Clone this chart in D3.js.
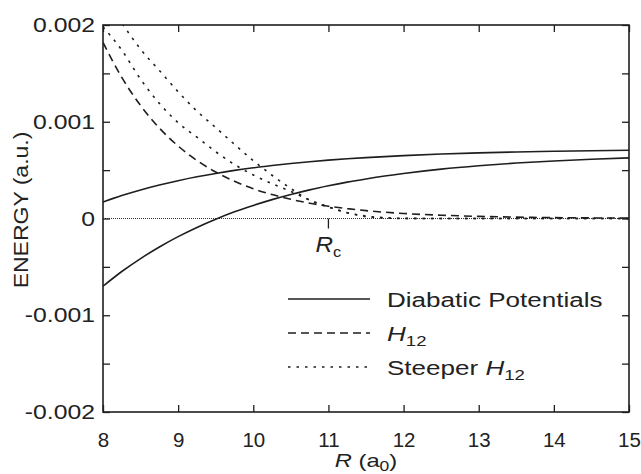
<!DOCTYPE html>
<html>
<head>
<meta charset="utf-8">
<script src="https://cdn.jsdelivr.net/npm/d3@7"></script>
<style>
  html, body { margin: 0; padding: 0; background: #fff; }
  svg text { font-family: "Liberation Sans", Arial, sans-serif; fill: #222; }
</style>
</head>
<body>
<svg id="chart" width="641" height="474"></svg>
<script>
// Internuclear distance grid (bohr)
const R = [8, 8.25, 8.5, 8.75, 9, 9.25, 9.5, 9.75, 10, 10.25, 10.5, 10.75, 11,
           11.25, 11.5, 11.75, 12, 12.5, 13, 13.5, 14, 14.5, 15];

// Diabatic potential curves (a.u.)
const diabaticUpper = [0.00017, 0.000237, 0.000295, 0.000346, 0.000391, 0.000431, 0.000466,
  0.000497, 0.000524, 0.000547, 0.000568, 0.000587, 0.000603, 0.000617, 0.000629, 0.00064,
  0.00065, 0.000666, 0.000678, 0.000688, 0.000695, 0.000701, 0.000705];
const diabaticLower = [-0.0007, -0.000548, -0.000414, -0.000294, -0.000187, -0.000092, -0.000007,
  0.000069, 0.000135, 0.000195, 0.000248, 0.000296, 0.000338, 0.000376, 0.000409, 0.000439,
  0.000465, 0.00051, 0.000545, 0.000573, 0.000595, 0.000613, 0.000627];

// Coupling H12 and two steeper variants
const h12 = [0.00182, 0.001458, 0.001168, 0.000935, 0.000749, 0.0006, 0.00048, 0.000385,
  0.000308, 0.000247, 0.000198, 0.000158, 0.000127, 0.000102, 0.000081, 0.000065, 0.000052,
  0.000034, 0.000022, 0.000014, 0.000009, 0.000006, 0.000004];
const steepH12a = [0.00198, 0.00174, 0.00144, 0.00119, 0.00099, 0.00084, 0.00069, 0.000558,
  0.00045, 0.00036, 0.00028, 0.00019, 0.00012, 0.00006, 0.00002, 0.000005, 0, 0, 0, 0, 0, 0, 0];
const steepH12b = [0.0023, 0.00202, 0.00175, 0.00153, 0.00131, 0.00111, 0.00094, 0.000766,
  0.000598, 0.000447, 0.00031, 0.00019, 0.00012, 0.00006, 0.000025, 0.000008, 0.000002,
  0, 0, 0, 0, 0, 0];

// Axis ticks and labels
const xTicks = [8, 9, 10, 11, 12, 13, 14, 15];
const yMajorTicks = [-0.002, -0.001, 0, 0.001, 0.002];
const yTickLabels = ["-0.002", "-0.001", "0", "0.001", "0.002"];
const yMinorTicks = [-0.0015, -0.0005, 0.0005, 0.0015];
const crossingR = 11;

const legendItems = [
  { name: "Diabatic Potentials", dash: null },
  { name: "H12", dash: "8,5" },
  { name: "Steeper H12", dash: "2.5,6" }
];

const svg = d3.select("#chart");
const plotL = 103, plotR = 629, plotT = 25, plotB = 412;

const x = d3.scaleLinear().domain([8, 15]).range([plotL, plotR]);
const y = d3.scaleLinear().domain([-0.002, 0.002]).range([plotB, plotT]);

const ink = "#1e1e1e";
const tickLen = 7;

// widen a text element horizontally around its anchor point
function widen(textSel, sx, rot) {
  textSel.each(function () {
    const t = d3.select(this);
    const tx = +t.attr("x") || 0, ty = +t.attr("y") || 0;
    t.attr("x", null).attr("y", null)
      .attr("transform", `translate(${tx},${ty})${rot ? ` rotate(${rot})` : ""} scale(${sx},1)`);
  });
}

svg.append("defs").append("clipPath").attr("id", "plot-clip")
  .append("rect").attr("x", plotL).attr("y", plotT)
  .attr("width", plotR - plotL).attr("height", plotB - plotT);

// zero reference line
svg.append("line")
  .attr("x1", x(8)).attr("x2", x(15))
  .attr("y1", y(0)).attr("y2", y(0))
  .attr("stroke", "#333").attr("stroke-width", 1)
  .attr("stroke-dasharray", "1,1");

// curves
const line = d3.line()
  .x((d, i) => x(R[i]))
  .y(d => y(d))
  .curve(d3.curveMonotoneX);

const plot = svg.append("g").attr("clip-path", "url(#plot-clip)");
const series = [
  { values: diabaticUpper, dash: null },
  { values: diabaticLower, dash: null },
  { values: h12, dash: "8,5" },
  { values: steepH12a, dash: "2.5,6" },
  { values: steepH12b, dash: "2.5,6" }
];
series.forEach(s => {
  plot.append("path")
    .attr("d", line(s.values))
    .attr("fill", "none")
    .attr("stroke", ink)
    .attr("stroke-width", 1.6)
    .attr("stroke-dasharray", s.dash);
});

// axes with inward ticks
const fmtY = d => { const k = yMajorTicks.indexOf(d); return k >= 0 ? yTickLabels[k] : ""; };

const xBottom = svg.append("g").attr("transform", `translate(0,${plotB})`)
  .call(d3.axisBottom(x).tickValues(xTicks).tickFormat(d3.format("d"))
    .tickSizeInner(-tickLen).tickSizeOuter(0).tickPadding(20));
const xTop = svg.append("g").attr("transform", `translate(0,${plotT})`)
  .call(d3.axisTop(x).tickValues(xTicks).tickFormat("")
    .tickSizeInner(-tickLen).tickSizeOuter(0));
const yLeft = svg.append("g").attr("transform", `translate(${plotL},0)`)
  .call(d3.axisLeft(y).tickValues(yMajorTicks.concat(yMinorTicks)).tickFormat(fmtY)
    .tickSizeInner(-tickLen).tickSizeOuter(0).tickPadding(8));
const yRight = svg.append("g").attr("transform", `translate(${plotR},0)`)
  .call(d3.axisRight(y).tickValues(yMajorTicks.concat(yMinorTicks)).tickFormat("")
    .tickSizeInner(-tickLen).tickSizeOuter(0));

[xBottom, xTop, yLeft, yRight].forEach(g => {
  g.select(".domain").remove();
  g.selectAll(".tick line").attr("stroke", ink).attr("stroke-width", 1.3);
  g.selectAll(".tick text").attr("font-size", 21).attr("fill", "#222")
    .style("font-family", "'Liberation Sans', Arial, sans-serif");
});
xBottom.selectAll(".tick text").attr("font-size", 20.5);
widen(yLeft.selectAll(".tick text"), 1.18);

// frame
svg.append("rect")
  .attr("x", plotL).attr("y", plotT)
  .attr("width", plotR - plotL).attr("height", plotB - plotT)
  .attr("fill", "none").attr("stroke", ink).attr("stroke-width", 1.6);

// crossing marker R_c
svg.append("line")
  .attr("x1", x(crossingR)).attr("x2", x(crossingR))
  .attr("y1", y(0)).attr("y2", y(0) + 10)
  .attr("stroke", ink).attr("stroke-width", 1.3);
const rc = svg.append("text")
  .attr("x", x(crossingR)).attr("y", 252)
  .attr("text-anchor", "middle").attr("font-size", 22);
rc.append("tspan").attr("font-style", "italic").text("R");
rc.append("tspan").attr("font-size", 15).attr("dy", 5).text("c");
widen(rc, 1.1);

// axis titles
const xt = svg.append("text")
  .attr("x", (plotL + plotR) / 2).attr("y", 467)
  .attr("text-anchor", "middle").attr("font-size", 19);
xt.append("tspan").attr("font-style", "italic").text("R");
xt.append("tspan").text(" (a");
xt.append("tspan").attr("font-size", 14).attr("dy", 4).text("0");
xt.append("tspan").attr("dy", -4).text(")");
widen(xt, 1.25);

const yt = svg.append("text")
  .attr("x", 28).attr("y", 210)
  .attr("text-anchor", "middle").attr("font-size", 20)
  .text("ENERGY (a.u.)");
widen(yt, 1.15, -90);

// legend
const legendY = [299, 333, 367];
legendItems.forEach((item, i) => {
  const ly = legendY[i];
  svg.append("line")
    .attr("x1", 288).attr("x2", 370)
    .attr("y1", ly).attr("y2", ly)
    .attr("stroke", ink).attr("stroke-width", 1.5)
    .attr("stroke-dasharray", item.dash);
  const t = svg.append("text").attr("x", 387).attr("y", ly + 7.5).attr("font-size", 21);
  if (item.name === "Diabatic Potentials") {
    t.text(item.name);
  } else {
    if (item.name.startsWith("Steeper")) t.append("tspan").text("Steeper ");
    t.append("tspan").attr("font-style", "italic").text("H");
    t.append("tspan").attr("font-size", 15).attr("dy", 5).text("12");
  }
  widen(t, 1.24);
});
</script>
</body>
</html>
